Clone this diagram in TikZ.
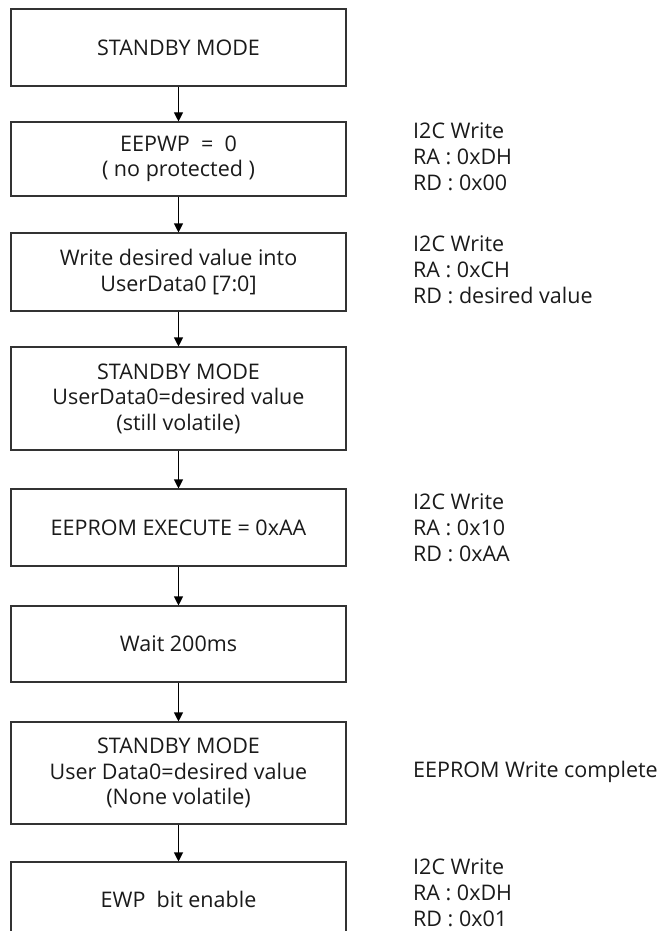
\documentclass[tikz,border=0pt]{standalone}
\usepackage{fontspec}
\setmainfont{Open Sans}
\usetikzlibrary{arrows.meta}
\definecolor{ink}{HTML}{1A1A1A}
\definecolor{edge}{HTML}{333333}
\tikzset{
  flowbox/.style={draw=edge, line width=1.1pt, minimum width=335pt, inner sep=0pt,
    align=center, text=ink, font=\fontsize{21.5}{25.5}\selectfont},
  note/.style={anchor=west, align=left, inner sep=0pt, text=ink,
    font=\fontsize{21.5}{26}\selectfont},
  flow/.style={line width=1.1pt, draw=black, -{Triangle[length=9pt,width=9pt]}}
}
\begin{document}
\begin{tikzpicture}[x=1pt,y=-1pt]
\useasboundingbox (0,0) rectangle (664,931);
\clip (0,0) rectangle (664,931);
\fill[white] (0,0) rectangle (664,931);

% process steps
\node[flowbox, minimum height=77pt]  (s1) at (178.5,47.5) {STANDBY MODE};
\node[flowbox, minimum height=74pt]  (s2) at (178.5,159)  {EEPWP\ \ =\ \ 0\\( no protected )};
\node[flowbox, minimum height=78pt]  (s3) at (178.5,272)  {Write desired value into\\UserData0 [7:0]};
\node[flowbox, minimum height=103pt] (s4) at (178.5,398.5){STANDBY MODE\\UserData0=desired value\\(still volatile)};
\node[flowbox, minimum height=77pt]  (s5) at (178.5,527.5){EEPROM EXECUTE = 0xAA};
\node[flowbox, minimum height=76pt]  (s6) at (178.5,644)  {Wait 200ms};
\node[flowbox, minimum height=102pt] (s7) at (178.5,773)  {STANDBY MODE\\User Data0=desired value\\(None volatile)};
\node[flowbox, minimum height=74pt]  (s8) at (178.5,899)  {EWP\ \ bit enable};

% connectors
\draw[flow] (s1) -- (s2);
\draw[flow] (s2) -- (s3);
\draw[flow] (s3) -- (s4);
\draw[flow] (s4) -- (s5);
\draw[flow] (s5) -- (s6);
\draw[flow] (s6) -- (s7);
\draw[flow] (s7) -- (s8);

% register annotations
\node[note] (n2) at (413,157) {I2C Write\\RA : 0xDH\\RD : 0x00};
\node[note] (n3) at (413,270) {I2C Write\\RA : 0xCH\\RD : desired value};
\node[note] (n5) at (413,528) {I2C Write\\RA : 0x10\\RD : 0xAA};
\node[note] (n7) at (413,772) {EEPROM Write complete};
\node[note] (n8) at (413,893) {I2C Write\\RA : 0xDH\\RD : 0x01};
\end{tikzpicture}
\end{document}
